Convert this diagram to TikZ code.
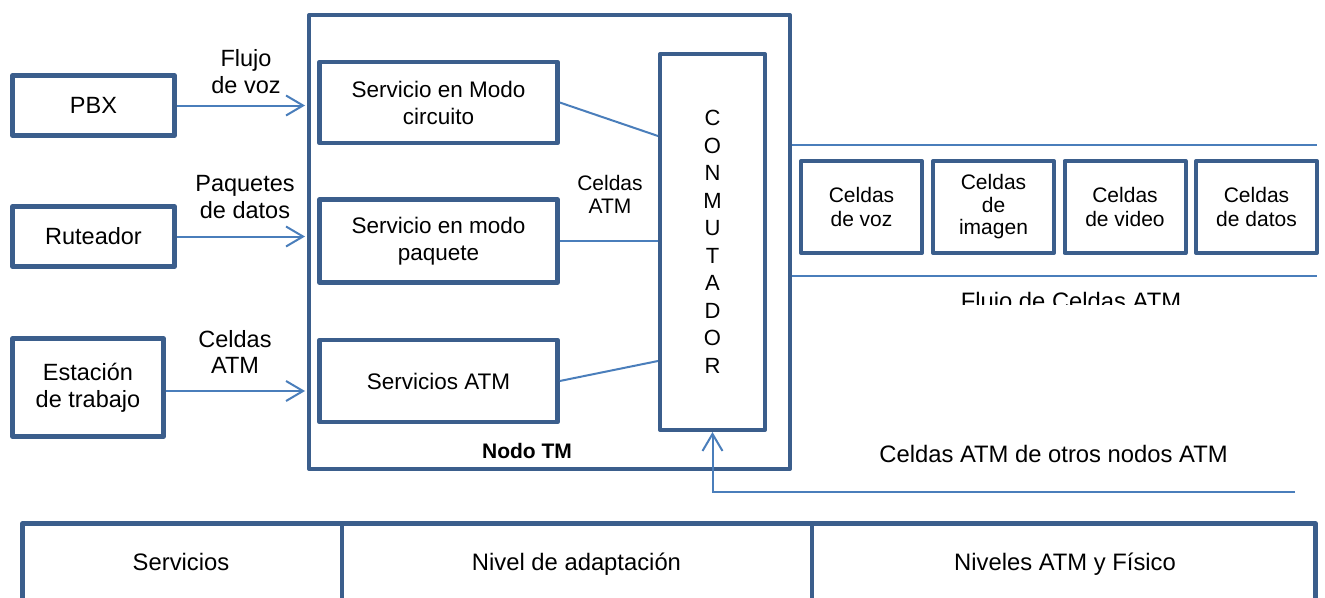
\documentclass[tikz,border=0pt]{standalone}
\usepackage{fontspec}
\setmainfont{Liberation Sans}
\usetikzlibrary{arrows.meta}
\definecolor{boxblue}{RGB}{59,94,140}
\definecolor{linkblue}{RGB}{74,126,187}

\begin{document}
\begin{tikzpicture}
	[x=1pt,y=-1pt,
	frameline/.style={draw=boxblue,line width=4.5pt,line join=round},
	box/.style={frameline,align=center,inner sep=0pt,font=\fontsize{23.5}{27}\selectfont},
	svc/.style={box,minimum width=238,minimum height=82,font=\fontsize{22.5}{27}\selectfont},
	cell/.style={box,line width=4pt,minimum width=121,minimum height=92,font=\fontsize{21}{24.5}\selectfont},
	lbl/.style={align=center,inner sep=0pt,font=\fontsize{23.5}{26.5}\selectfont},
	biglbl/.style={lbl,font=\fontsize{23.8}{27}\selectfont},
	wire/.style={draw=linkblue,line width=2pt},
	flow/.style={wire,-{Straight Barb[length=17pt,width=20pt]}}]
	\useasboundingbox (0,0) rectangle (1325,597);
	\clip (0,0) rectangle (1325,597);

	\node[box,minimum width=162,minimum height=60] (pbx) at (93.5,105.5) {PBX};
	\node[box,minimum width=162,minimum height=60] (rut) at (93.5,236.5) {Ruteador};
	\node[box,minimum width=151,minimum height=98] (est) at (88,387.5) {Estación\\de trabajo};

	\node[box,line width=4pt,minimum width=481,minimum height=454] (tm) at (549.5,242) {};
	\node[svc,minimum height=81] (circ) at (438.5,102.5) {Servicio en Modo\\circuito};
	\node[svc,minimum height=83] (paq) at (438.5,241) {Servicio en modo\\paquete};
	\node[svc] (satm) at (438.5,381) {Servicios ATM};
	\node[box,line width=4pt,minimum width=105,minimum height=376,font=\fontsize{22}{27.5}\selectfont] (conm) at (712.5,242) {C\\O\\N\\M\\U\\T\\A\\D\\O\\R};
	\node[lbl,font=\fontsize{21}{23}\selectfont] (celdaslbl) at (610,194) {Celdas\\ATM};
	\node[lbl,font=\bfseries\fontsize{21}{24}\selectfont] (tmlbl) at (527,451) {Nodo TM};

	\node[lbl] (vozlbl) at (246,71.5) {Flujo\\de voz};
	\node[lbl] (datoslbl) at (245,197) {Paquetes\\de datos};
	\node[lbl] (atmlbl) at (235,352) {Celdas\\ATM};

	\node[cell] (cvoz) at (861.5,207) {Celdas\\de voz};
	\node[cell,font=\fontsize{21}{22.5}\selectfont] (cimg) at (993.5,207) {Celdas\\de\\imagen};
	\node[cell] (cvid) at (1125,207) {Celdas\\de video};
	\node[cell] (cdat) at (1256.5,207) {Celdas\\de datos};

	\coordinate (ftop) at (1317,145);
	\coordinate (fbot) at (1317,276);
	\coordinate (entrada) at (1295,492);

	\draw[flow,shorten >=2pt] (pbx.east) -- (pbx.east -| tm.west);
	\draw[flow,shorten >=2pt] (rut.east) -- (rut.east -| tm.west);
	\draw[flow,shorten >=2pt] ([yshift=-3.5pt]est.east) -- ([yshift=-3.5pt]est.east -| tm.west);

	\draw[wire] (circ.east) -- ([yshift=106pt]conm.west);
	\draw[wire] (paq.east) -- (paq.east -| conm.west);
	\draw[wire] (satm.east) -- ([yshift=-119pt]conm.west);

	\draw[wire] (ftop -| tm.east) -- (ftop);
	\draw[wire] (fbot -| tm.east) -- (fbot);
	\draw[flow] (entrada) -| (conm.south);

	\begin{scope}
		\clip (900,280) rectangle (1250,304);
		\node[biglbl,anchor=base] (flujo) at (1071,309) {Flujo de Celdas ATM};
	\end{scope}
	\node[biglbl] (otros) at (1053.5,453.5) {Celdas ATM de otros nodos ATM};

	\draw[frameline] (22.5,640) |- (1315.5,523.5) -- (1315.5,640);
	\draw[frameline] (342,523.5) -- (342,640);
	\draw[frameline] (812,523.5) -- (812,640);
	\node[biglbl] (servicios) at (181,562) {Servicios};
	\node[biglbl] (adaptacion) at (576.5,564) {Nivel de adaptación};
	\node[biglbl] (fisico) at (1065,564) {Niveles ATM y Físico};
\end{tikzpicture}
\end{document}
